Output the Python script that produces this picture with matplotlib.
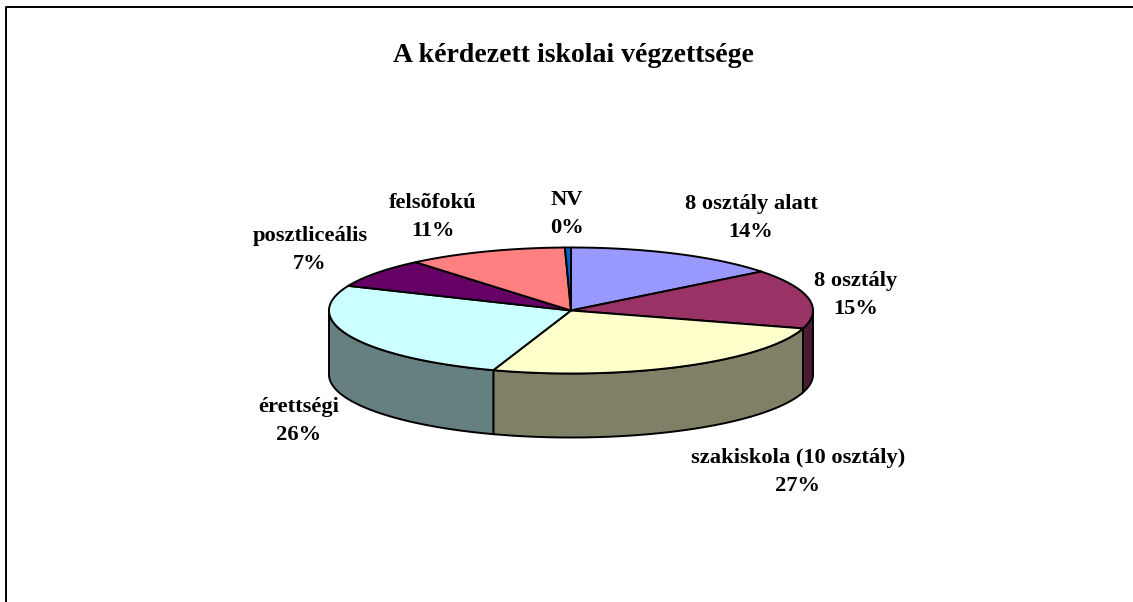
import numpy as np
import matplotlib.pyplot as plt

title = 'A kérdezett iskolai végzettsége'
categories = ['8 osztály alatt', '8 osztály', 'szakiskola (10 osztály)', 'érettségi',
              'posztliceális', 'felsõfokú', 'NV']
shares = [14.4, 15.2, 25.6, 26.2, 7.5, 10.7, 0.4]
percent_labels = ['14%', '15%', '27%', '26%', '7%', '11%', '0%']
top_colors = ['#9999FF', '#993366', '#FFFFCC', '#CCFFFF', '#660066', '#FF8080', '#0066CC']
side_colors = ['#4C4C80', '#4C1933', '#808066', '#668080', '#330033', '#804040', '#003366']
label_pos = [(751, 218), (856, 295), (798, 472), (299, 421), (310, 250), (433, 217), (567, 214)]

CX, CY = 571, 310.5
RX, RY = 242, 63
DEPTH = 64


def ellipse_points(start, end):
    t = np.radians(np.linspace(start, end, 120))
    return CX + RX * np.sin(t), CY - RY * np.cos(t)


def draw_pie(ax):
    edges = np.concatenate([[0], np.cumsum(shares)]) / sum(shares) * 360

    # walls first, only the front half of the rim shows
    for i in range(len(shares)):
        start = max(edges[i], 90)
        end = min(edges[i + 1], 270)
        if end <= start:
            continue
        x, y = ellipse_points(start, end)
        ax.fill(np.r_[x, x[::-1]], np.r_[y, y[::-1] + DEPTH], facecolor=side_colors[i],
                edgecolor='black', linewidth=1.4, joinstyle='round')

    for i in range(len(shares)):
        x, y = ellipse_points(edges[i], edges[i + 1])
        ax.fill(np.r_[CX, x], np.r_[CY, y], facecolor=top_colors[i],
                edgecolor='black', linewidth=1.4, joinstyle='round')


def main():
    fig = plt.figure(figsize=(11.33, 6.02), dpi=100)
    ax = fig.add_axes([0, 0, 1, 1])
    ax.set_xlim(0, 1133)
    ax.set_ylim(602, 0)
    ax.axis('off')

    # only left and top border are inside the crop
    ax.plot([6, 6, 1133], [602, 7, 7], color='black', linewidth=1.4)

    draw_pie(ax)

    font = {'family': 'Liberation Serif', 'weight': 'bold', 'color': 'black'}
    ax.text(573, 55, title, fontsize=20, ha='center', va='center', **font)
    for name, pct, (x, y) in zip(categories, percent_labels, label_pos):
        ax.text(x, y, name + '\n' + pct, fontsize=16.2, ha='center', va='center', linespacing=1.5, **font)

    fig.savefig('out.png', dpi=100)


if __name__ == "__main__":
    main()
